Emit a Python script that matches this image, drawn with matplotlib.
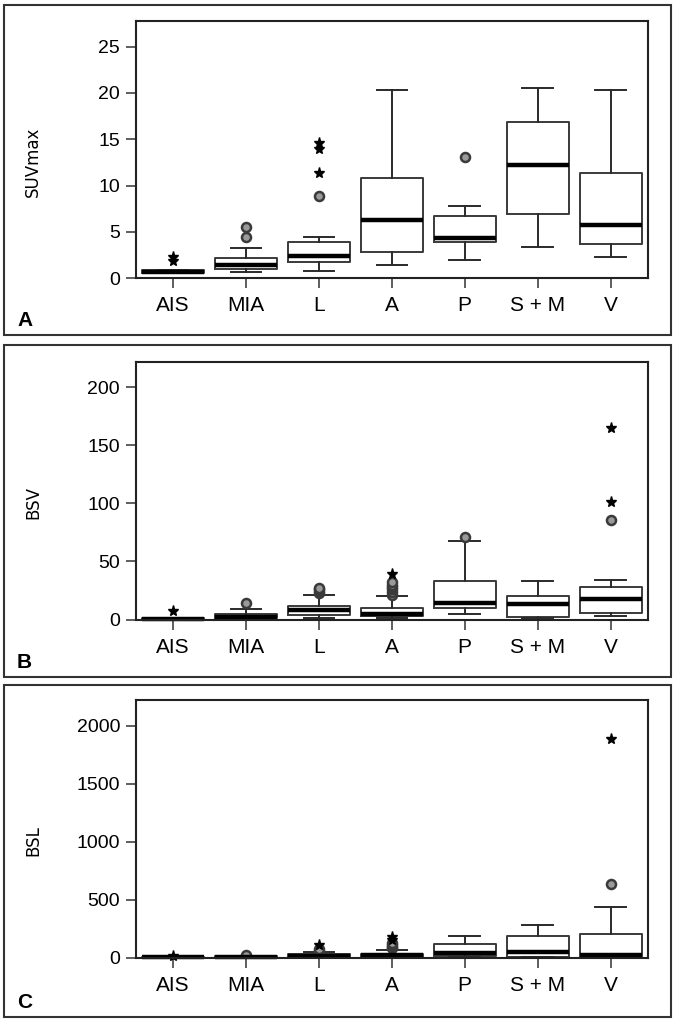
import matplotlib
matplotlib.use('Agg')
import matplotlib.pyplot as plt
from matplotlib.patches import Rectangle

cats = ['AIS', 'MIA', 'L', 'A', 'P', 'S + M', 'V']

# panel A: SUVmax
suv_q1 = [0.55, 0.97, 1.72, 2.79, 3.9, 6.91, 3.65]
suv_med = [0.72, 1.43, 2.44, 6.3, 4.37, 12.2, 5.77]
suv_q3 = [0.9, 2.15, 3.94, 10.78, 6.7, 16.83, 11.35]
suv_lo = [0.55, 0.66, 0.75, 1.47, 2.0, 3.37, 2.29]
suv_hi = [0.9, 3.29, 4.48, 20.27, 7.77, 20.52, 20.27]
suv_circ = [[], [4.5, 5.5], [8.9], [], [13.14], [], []]
suv_star = [[1.85, 2.35], [], [11.4, 13.9, 14.6], [], [], [], []]

# panel B: BSV
bsv_q1 = [0.0, 1.4, 4.3, 2.8, 10.0, 2.6, 5.7]
bsv_med = [0.5, 2.6, 8.5, 5.2, 14.4, 13.4, 18.0]
bsv_q3 = [1.0, 5.2, 11.4, 10.0, 33.0, 20.0, 27.8]
bsv_lo = [0.0, 0.3, 1.1, 1.1, 4.8, 1.1, 3.4]
bsv_hi = [1.0, 9.2, 21.1, 19.9, 67.2, 33.2, 34.3]
bsv_circ = [[], [14.0], [23, 24.5, 26, 27.5], [21.5, 23.5, 26, 28, 30, 32], [71], [], [85.3]]
bsv_star = [[7.4], [], [], [39.3], [], [], [101.3, 165]]

# panel C: BSL
bsl_q1 = [0, 0, 3, 3, 15, 8, 8]
bsl_med = [3, 4, 12, 20, 38, 45, 25]
bsl_q3 = [8, 10, 28, 35, 119, 185, 205]
bsl_lo = [0, 0, 0, 0, 3, 3, 3]
bsl_hi = [10, 12, 51, 67, 185, 283, 438]
bsl_circ = [[], [20], [60, 72], [80, 95, 110, 125], [], [], [634]]
bsl_star = [[15], [], [108], [150, 181], [], [], [1885]]

W, H = 677, 1021
fig = plt.figure(figsize=(W / 100, H / 100), dpi=100)

tick_font = ['Liberation Sans Narrow', 'Liberation Sans', 'DejaVu Sans']

panels = [
    ('A', 'SUVmax', suv_q1, suv_med, suv_q3, suv_lo, suv_hi, suv_circ, suv_star,
     27.8, [0, 5, 10, 15, 20, 25], 20.7, 4.7, 335, 162),
    ('B', 'BSV', bsv_q1, bsv_med, bsv_q3, bsv_lo, bsv_hi, bsv_circ, bsv_star,
     221.5, [0, 50, 100, 150, 200], 362, 345, 677, 502),
    ('C', 'BSL', bsl_q1, bsl_med, bsl_q3, bsl_lo, bsl_hi, bsl_circ, bsl_star,
     2221, [0, 500, 1000, 1500, 2000], 700, 685, 1017, 841),
]

pos = list(range(1, len(cats) + 1))

for (letter, ylab, q1, med, q3, lo, hi, circ, star, ytop, yt,
     ax_top, fr_top, fr_bot, ylab_y) in panels:
    # outer panel frame
    fig.patches.append(Rectangle((4.3 / W, 1 - fr_bot / H), (671 - 4.3) / W,
                                 (fr_bot - fr_top) / H, transform=fig.transFigure,
                                 fill=False, edgecolor='#333333', lw=1.5))
    ax = fig.add_axes([136 / W, 1 - (ax_top + 257.6) / H, 511.7 / W, 257.6 / H])

    stats = []
    for i in range(len(cats)):
        stats.append(dict(q1=q1[i], med=med[i], q3=q3[i], whislo=lo[i],
                          whishi=hi[i], fliers=circ[i], label=cats[i]))
    parts = ax.bxp(stats, positions=pos, widths=0.85, capwidths=0.42, manage_ticks=False,
                   boxprops=dict(color='#3a3a3a', lw=1.4),
                   whiskerprops=dict(color='#2a2a2a', lw=1.4),
                   capprops=dict(color='#2a2a2a', lw=1.4),
                   medianprops=dict(color='black', lw=3.2, solid_capstyle='butt'),
                   flierprops=dict(marker='o', markersize=6.5, markerfacecolor='#9a9a9a',
                                   markeredgecolor='#3a3a3a', markeredgewidth=1.8))
    for key in ('medians', 'boxes', 'caps', 'whiskers'):
        for art in parts[key]:
            art.set_clip_on(False)
    for i in range(len(cats)):
        if star[i]:
            ax.plot([pos[i]] * len(star[i]), star[i], linestyle='none', marker='*',
                    markersize=8, color='black', clip_on=False)

    ax.set_xlim(0.49, 7.51)
    ax.set_ylim(0, ytop)
    ax.set_yticks(yt)
    ax.set_xticks(pos)
    ax.set_xticklabels(cats, family=tick_font, fontsize=15)
    ax.set_yticklabels([str(v) for v in yt], family=['Liberation Sans', 'DejaVu Sans'],
                       fontsize=14)
    ax.tick_params(axis='both', direction='out', length=7, width=1.1, color='#333333')
    ax.tick_params(axis='x', pad=6)
    ax.tick_params(axis='y', pad=4.5)
    for sp in ax.spines.values():
        sp.set_linewidth(1.5)
        sp.set_color('#222222')

    fig.text(33 / W, 1 - ylab_y / H, ylab, rotation=90, ha='center', va='center',
             fontsize=12, family='DejaVu Sans')
    fig.text(17 / W, 1 - (fr_bot - 9) / H, letter, ha='left', va='baseline',
             fontsize=15, fontweight='bold', family=tick_font)

fig.savefig('out.png', dpi=100)
